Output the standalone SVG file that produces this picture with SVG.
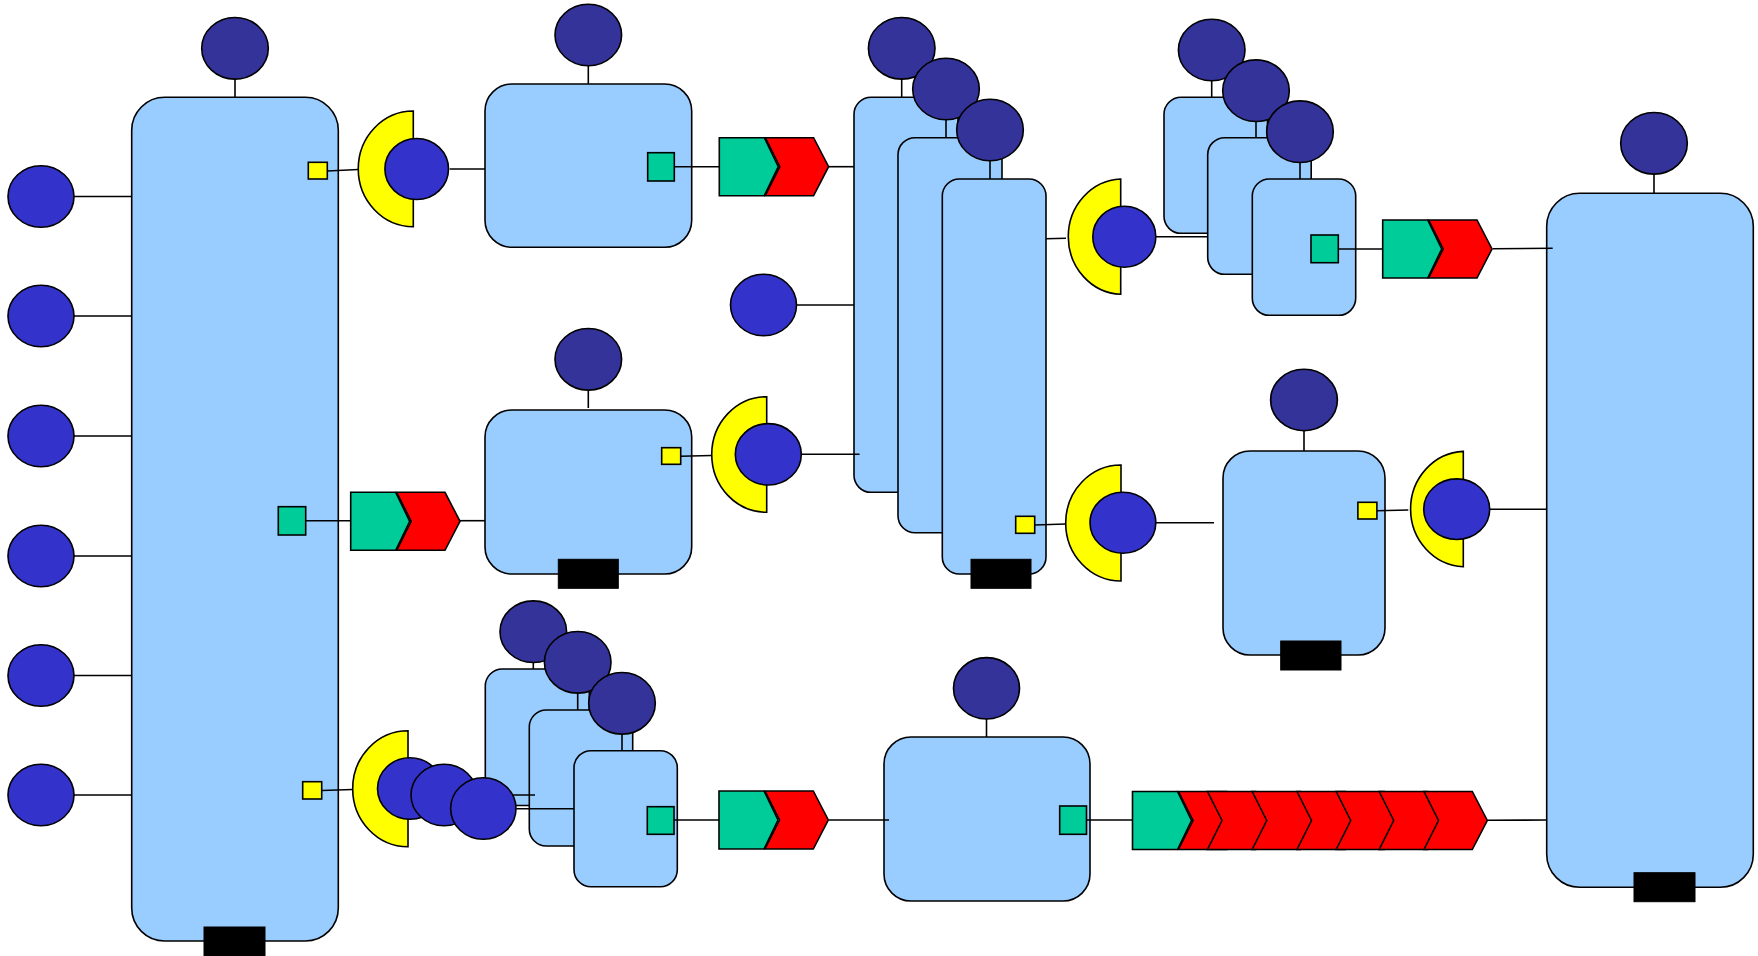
<svg xmlns="http://www.w3.org/2000/svg" xmlns:xlink="http://www.w3.org/1999/xlink" width="1758" height="956" viewBox="0 0 1758 956">
<style>
.rn{fill:#99CCFF;stroke:#000;stroke-width:1.6}
.dc{fill:#333399;stroke:#000;stroke-width:1.6}
.bc{fill:#3333CC;stroke:#000;stroke-width:1.6}
.ys{fill:#FFFF00;stroke:#000;stroke-width:1.6}
.gs{fill:#00CC99;stroke:#000;stroke-width:1.6}
.rd{fill:#FF0000;stroke:#000;stroke-width:1.6;stroke-linejoin:miter}
.blk{fill:#000;stroke:#000;stroke-width:1}
.ln{stroke:#000;stroke-width:1.6;fill:none}
</style>
<defs>
<polygon id="chg" class="gs" points="0,0 45,0 59,29 45,58 0,58"/>
<polygon id="chr" class="rd" points="0,0 48.3,0 63.3,29 48.3,58 0,58 14.5,29"/>
</defs>
<rect width="1758" height="956" fill="#fff"/>

<!-- rectangle nodes -->
<g id="n1">
<line class="ln" x1="235" y1="79" x2="235" y2="97.3"/>
<ellipse class="dc" cx="235" cy="48.3" rx="33.3" ry="30.8"/>
<rect class="rn" x="131.7" y="97.3" width="206.6" height="843.7" rx="33" ry="33"/>
<rect class="ys" x="308.3" y="162.3" width="19" height="16.7"/>
<rect class="gs" x="278.3" y="506.7" width="27.4" height="28.3"/>
<rect class="ys" x="302.7" y="781.7" width="19" height="17.3"/>
<rect class="blk" x="204" y="927" width="61" height="30"/>
</g>
<g id="n2">
<line class="ln" x1="588.3" y1="66" x2="588.3" y2="84"/>
<ellipse class="dc" cx="588.3" cy="35" rx="33.3" ry="30.8"/>
<rect class="rn" x="485" y="84" width="206.7" height="163.3" rx="27" ry="27"/>
<rect class="gs" x="647.7" y="152.7" width="26.6" height="28.3"/>
</g>
<g id="n8">
<line class="ln" x1="588.3" y1="390" x2="588.3" y2="408"/>
<ellipse class="dc" cx="588.3" cy="359.3" rx="33.3" ry="30.8"/>
<rect class="rn" x="485" y="410" width="206.7" height="164" rx="27" ry="27"/>
<rect class="ys" x="661.7" y="447.7" width="19" height="16.6"/>
<rect class="blk" x="558.3" y="559.3" width="60" height="29"/>
</g>
<g id="n6">
<line class="ln" x1="986.5" y1="719" x2="986.5" y2="737"/>
<ellipse class="dc" cx="986.5" cy="688.3" rx="33" ry="30.7"/>
<rect class="rn" x="884" y="737" width="206" height="164" rx="27" ry="27"/>
<rect class="gs" x="1059.7" y="806" width="26.8" height="28.3"/>
</g>
<g id="n9">
<line class="ln" x1="1304" y1="431" x2="1304" y2="451"/>
<ellipse class="dc" cx="1304" cy="400" rx="33.4" ry="30.7"/>
<rect class="rn" x="1223" y="451" width="162" height="204" rx="27" ry="27"/>
<rect class="ys" x="1357.9" y="502.3" width="19" height="16.7"/>
<rect class="blk" x="1280.7" y="641" width="60.3" height="29"/>
</g>
<g id="n5">
<line class="ln" x1="1654" y1="174" x2="1654" y2="193.3"/>
<ellipse class="dc" cx="1654" cy="143.3" rx="33.3" ry="30.8"/>
<rect class="rn" x="1546.7" y="193.3" width="206.6" height="694" rx="33" ry="33"/>
<rect class="blk" x="1634" y="872.7" width="61" height="29"/>
</g>
<g id="n3a">
<line class="ln" x1="901.7" y1="79" x2="901.7" y2="97.3"/>
<ellipse class="dc" cx="901.7" cy="48.3" rx="33.3" ry="30.8"/>
<rect class="rn" x="854" y="97.3" width="104" height="395" rx="17" ry="17"/>
</g>
<g id="n3b">
<line class="ln" x1="946" y1="119.8" x2="946" y2="137.7"/>
<ellipse class="dc" cx="946" cy="89" rx="33.3" ry="30.8"/>
<rect class="rn" x="898" y="137.7" width="104" height="395" rx="17" ry="17"/>
</g>
<g id="n3c">
<line class="ln" x1="990" y1="160.8" x2="990" y2="179"/>
<ellipse class="dc" cx="990" cy="130" rx="33.3" ry="30.8"/>
<rect class="rn" x="942.3" y="179" width="103.7" height="395" rx="17" ry="17"/>
<rect class="ys" x="1015.7" y="516.3" width="19" height="17"/>
<rect class="blk" x="971" y="559.3" width="60" height="29"/>
</g>
<g id="n4a">
<line class="ln" x1="1211.7" y1="80.8" x2="1211.7" y2="97.3"/>
<ellipse class="dc" cx="1211.7" cy="50" rx="33.3" ry="30.8"/>
<rect class="rn" x="1164" y="97.3" width="103.5" height="136" rx="17" ry="17"/>
</g>
<g id="n4b">
<line class="ln" x1="1256" y1="121.5" x2="1256" y2="137.7"/>
<ellipse class="dc" cx="1256" cy="90.7" rx="33.3" ry="30.8"/>
<rect class="rn" x="1207.7" y="137.7" width="103.5" height="136.6" rx="17" ry="17"/>
</g>
<g id="n4c">
<line class="ln" x1="1300" y1="162.5" x2="1300" y2="179"/>
<ellipse class="dc" cx="1300" cy="131.7" rx="33.3" ry="30.8"/>
<rect class="rn" x="1252.3" y="179" width="103.4" height="136.3" rx="17" ry="17"/>
<rect class="gs" x="1311" y="235" width="27.3" height="27.7"/>
</g>
<g id="n7a">
<line class="ln" x1="533.3" y1="662.5" x2="533.3" y2="669"/>
<ellipse class="dc" cx="533.3" cy="631.7" rx="33.3" ry="30.8"/>
<rect class="rn" x="485.3" y="669" width="104" height="136.5" rx="17" ry="17"/>
</g>
<g id="n7b">
<line class="ln" x1="577.7" y1="693" x2="577.7" y2="710"/>
<ellipse class="dc" cx="577.7" cy="662.3" rx="33.3" ry="30.8"/>
<rect class="rn" x="529.3" y="710" width="103.4" height="136" rx="17" ry="17"/>
</g>
<g id="n7c">
<line class="ln" x1="622" y1="734" x2="622" y2="750.7"/>
<ellipse class="dc" cx="622" cy="703.3" rx="33.3" ry="30.8"/>
<rect class="rn" x="574" y="750.7" width="103.3" height="136" rx="17" ry="17"/>
<rect class="gs" x="647.3" y="806.7" width="26.7" height="27.6"/>
</g>

<!-- connectors -->
<g id="connectors" class="ln">
<line x1="74" y1="196.5" x2="131.7" y2="196.5"/>
<line x1="74" y1="316" x2="131.7" y2="316"/>
<line x1="74" y1="436" x2="131.7" y2="436"/>
<line x1="74" y1="556" x2="131.7" y2="556"/>
<line x1="74" y1="675.5" x2="131.7" y2="675.5"/>
<line x1="74" y1="795" x2="131.7" y2="795"/>
<line x1="327.3" y1="171" x2="358.3" y2="169.5"/>
<line x1="449.7" y1="169" x2="485" y2="169"/>
<line x1="674.3" y1="166.7" x2="719.3" y2="166.7"/>
<line x1="829" y1="166.7" x2="854" y2="166.7"/>
<line x1="796.5" y1="305" x2="854" y2="305"/>
<line x1="305.7" y1="520.7" x2="350.7" y2="520.7"/>
<line x1="460" y1="520.7" x2="485" y2="520.7"/>
<line x1="680.7" y1="456.3" x2="711.7" y2="455.5"/>
<line x1="801.3" y1="454.3" x2="859.6" y2="454.3"/>
<line x1="1046" y1="238.7" x2="1066" y2="238.2"/>
<line x1="1155.8" y1="236.7" x2="1207.7" y2="236.7"/>
<line x1="1338.3" y1="249" x2="1382.7" y2="249"/>
<line x1="1492.7" y1="248.7" x2="1552.7" y2="248.3"/>
<line x1="1034.6" y1="525" x2="1065.7" y2="524"/>
<line x1="1155.8" y1="522.7" x2="1214" y2="522.7"/>
<line x1="1377" y1="510.8" x2="1408.3" y2="510"/>
<line x1="1489.7" y1="509.2" x2="1546.7" y2="509.2"/>
<line x1="321.7" y1="790.5" x2="352.7" y2="789.5"/>
<line x1="443" y1="788.5" x2="485.3" y2="788.5"/>
<line x1="477" y1="795" x2="535" y2="795"/>
<line x1="516.3" y1="808.7" x2="574" y2="808.7"/>
<line x1="674" y1="820" x2="719" y2="820"/>
<line x1="829" y1="820" x2="889" y2="820"/>
<line x1="1086.5" y1="820" x2="1132.5" y2="820"/>
<line x1="1487.4" y1="820.3" x2="1546.7" y2="820"/>
</g>

<!-- chevron nodes -->
<g id="ch1"><use href="#chg" xlink:href="#chg" x="719.3" y="137.7"/><use href="#chr" xlink:href="#chr" x="765.3" y="137.7"/></g>
<g id="ch2"><use href="#chg" xlink:href="#chg" x="350.7" y="492.3"/><use href="#chr" xlink:href="#chr" x="396.7" y="492.3"/></g>
<g id="ch3"><use href="#chg" xlink:href="#chg" x="1382.7" y="220"/><use href="#chr" xlink:href="#chr" x="1428.7" y="220"/></g>
<g id="ch4"><use href="#chg" xlink:href="#chg" x="719" y="791"/><use href="#chr" xlink:href="#chr" x="765" y="791"/></g>
<g id="ch5">
<use href="#chg" xlink:href="#chg" x="1132.5" y="791.5"/>
<use href="#chr" xlink:href="#chr" x="1178.5" y="791.5"/>
<use href="#chr" xlink:href="#chr" x="1207.5" y="791.5"/>
<use href="#chr" xlink:href="#chr" x="1252.2" y="791.5"/>
<use href="#chr" xlink:href="#chr" x="1297" y="791.5"/>
<use href="#chr" xlink:href="#chr" x="1336.2" y="791.5"/>
<use href="#chr" xlink:href="#chr" x="1379.2" y="791.5"/>
<use href="#chr" xlink:href="#chr" x="1424" y="791.5"/>
</g>

<!-- circle nodes -->
<g id="b1"><ellipse class="bc" cx="41" cy="196.5" rx="33" ry="30.8"/></g>
<g id="b2"><ellipse class="bc" cx="41" cy="316" rx="33" ry="30.8"/></g>
<g id="b3"><ellipse class="bc" cx="41" cy="436" rx="33" ry="30.8"/></g>
<g id="b4"><ellipse class="bc" cx="41" cy="556" rx="33" ry="30.8"/></g>
<g id="b5"><ellipse class="bc" cx="41" cy="675.5" rx="33" ry="30.8"/></g>
<g id="b6"><ellipse class="bc" cx="41" cy="795" rx="33" ry="30.8"/></g>
<g id="b7"><ellipse class="bc" cx="763.5" cy="305" rx="33" ry="30.8"/></g>

<!-- complexes (yellow half ring + blue circle) -->
<g id="cx1">
<path class="ys" d="M413.3,111 A55,57.8 0 0 0 413.3,226.7 Z"/>
<ellipse class="bc" cx="416.7" cy="169" rx="31.8" ry="30.5"/>
</g>
<g id="cx2">
<path class="ys" d="M766.7,396.7 A55,57.8 0 0 0 766.7,512.3 Z"/>
<ellipse class="bc" cx="768.3" cy="454.3" rx="33" ry="30.7"/>
</g>
<g id="cx3">
<path class="ys" d="M1120.7,179 A54.7,57.7 0 0 0 1120.7,294.3 Z"/>
<ellipse class="bc" cx="1124.3" cy="236.7" rx="31.5" ry="30.5"/>
</g>
<g id="cx4">
<path class="ys" d="M1121,465 A55.3,58 0 0 0 1121,581 Z"/>
<ellipse class="bc" cx="1122.9" cy="522.7" rx="32.9" ry="30.5"/>
</g>
<g id="cx5">
<path class="ys" d="M1463.3,451.4 A55,57.7 0 0 0 1463.3,566.7 Z"/>
<ellipse class="bc" cx="1456.7" cy="509.2" rx="33" ry="30.3"/>
</g>
<g id="cx6">
<path class="ys" d="M408,730.7 A55.3,58 0 0 0 408,846.7 Z"/>
<ellipse class="bc" cx="410" cy="788.5" rx="32.5" ry="30.8"/>
<ellipse class="bc" cx="444" cy="795" rx="33" ry="30.8"/>
<ellipse class="bc" cx="483.3" cy="808.5" rx="32.7" ry="30.8"/>
</g>
</svg>
